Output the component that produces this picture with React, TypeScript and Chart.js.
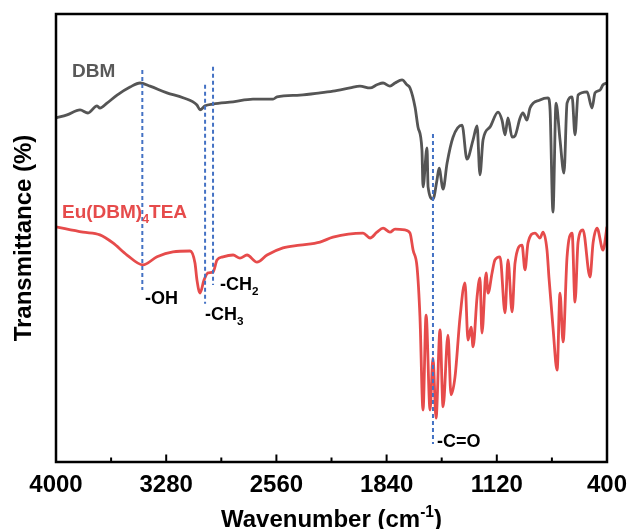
import React, { useEffect, useRef } from 'react';
import { Chart, registerables } from 'chart.js';

Chart.register(...registerables);

// ---- data ----
const dbmWavenumber = [4000, 3928, 3843, 3791, 3732, 3713, 3667, 3601, 3516, 3451, 3386, 3275, 3170, 3079, 3059, 3026, 2974, 2843, 2713, 2582, 2556, 2406, 2275, 2190, 2079, 2014, 1948, 1903, 1863, 1818, 1785, 1739, 1707, 1687, 1654, 1635, 1609, 1602, 1576, 1569, 1537, 1511, 1497, 1471, 1445, 1406, 1347, 1315, 1275, 1249, 1230, 1210, 1164, 1112, 1086, 1066, 1047, 1020, 1001, 968, 949, 923, 903, 838, 785, 772, 753, 733, 707, 681, 661, 628, 609, 589, 530, 498, 478, 446, 426, 400];
const dbmTransmittance = [76.8, 77.5, 78.6, 77.9, 79.5, 79.0, 80.1, 81.9, 83.7, 84.6, 83.9, 82.4, 81.3, 79.7, 78.6, 79.5, 79.9, 80.4, 81.0, 81.0, 81.5, 81.9, 82.4, 82.8, 83.5, 83.9, 83.5, 84.2, 84.6, 83.9, 84.6, 85.3, 84.2, 83.5, 79.2, 74.8, 69.6, 61.4, 70.1, 61.4, 58.7, 62.9, 65.6, 60.9, 66.7, 72.5, 75.2, 67.6, 71.9, 75.0, 64.1, 71.9, 74.8, 78.1, 76.3, 73.0, 76.8, 72.5, 72.8, 76.8, 77.9, 76.3, 79.0, 80.8, 81.3, 78.6, 55.8, 80.1, 71.9, 64.5, 80.1, 81.5, 73.0, 81.9, 82.6, 79.0, 82.4, 83.0, 84.2, 84.6];

const euWavenumber = [4000, 3824, 3713, 3628, 3536, 3432, 3340, 3236, 3124, 3092, 3079, 3059, 3033, 3007, 2974, 2948, 2909, 2843, 2798, 2752, 2687, 2621, 2517, 2406, 2275, 2190, 1994, 1948, 1903, 1863, 1818, 1785, 1720, 1687, 1667, 1641, 1622, 1602, 1582, 1556, 1537, 1517, 1491, 1471, 1439, 1419, 1393, 1360, 1328, 1308, 1288, 1275, 1249, 1230, 1217, 1190, 1177, 1151, 1132, 1099, 1066, 1047, 1020, 1001, 955, 936, 916, 870, 838, 818, 792, 779, 753, 726, 707, 687, 661, 628, 609, 589, 557, 511, 491, 465, 426, 400];
const euTransmittance = [52.5, 51.3, 50.7, 48.9, 46.2, 44.0, 45.8, 46.9, 47.1, 44.4, 40.6, 37.7, 40.6, 42.2, 42.4, 45.1, 45.8, 46.2, 45.5, 46.2, 44.6, 46.2, 47.8, 48.4, 49.1, 50.2, 51.1, 50.0, 51.3, 52.2, 51.3, 52.0, 51.8, 51.1, 47.3, 43.5, 32.4, 11.6, 32.8, 11.6, 23.2, 9.8, 29.5, 12.3, 28.3, 15.0, 19.0, 32.4, 40.0, 27.2, 30.1, 25.7, 36.8, 41.1, 28.8, 42.2, 37.7, 42.2, 45.1, 45.8, 33.3, 45.1, 33.5, 44.4, 48.4, 42.9, 48.9, 51.1, 50.0, 51.3, 47.3, 41.1, 30.1, 20.5, 37.7, 26.8, 45.8, 51.1, 35.7, 49.1, 51.8, 41.3, 48.9, 52.2, 47.3, 52.5];

// marker bands (dashed guide lines)
const bandWavenumber = [3436, 3026, 2974, 1537];
const bandTop = [87.5, 84.2, 88.2, 73.2];
const bandBottom = [38.4, 35.3, 39.5, 4.0];

// x tick labels (major), minor ticks every 360
const xTickLabels = [4000, 3280, 2560, 1840, 1120, 400];

const FONT = '"Liberation Sans", Arial, sans-serif';
const GRAY = '#555555';
const RED = '#E64B4B';
const BLUE = '#4472C4';

type Part = { t: string; sub?: boolean; sup?: boolean };

function richWidth(ctx: CanvasRenderingContext2D, parts: Part[], size: number) {
  let w = 0;
  for (const p of parts) {
    const s = p.sub || p.sup ? size * 0.65 : size;
    ctx.font = `bold ${s}px ${FONT}`;
    w += ctx.measureText(p.t).width;
  }
  return w;
}

function drawRich(ctx: CanvasRenderingContext2D, parts: Part[], x: number, y: number, size: number, color: string) {
  ctx.save();
  ctx.fillStyle = color;
  ctx.textAlign = 'left';
  ctx.textBaseline = 'alphabetic';
  let cx = x;
  for (const p of parts) {
    const s = p.sub || p.sup ? size * 0.65 : size;
    ctx.font = `bold ${s}px ${FONT}`;
    const dy = p.sub ? size * 0.28 : p.sup ? -size * 0.42 : 0;
    ctx.fillText(p.t, cx, y + dy);
    cx += ctx.measureText(p.t).width;
  }
  ctx.restore();
}

// annotation text anchors
const annotations: { parts: Part[]; wn: number; tr: number; size: number; color: string }[] = [
  { parts: [{ t: 'DBM' }], wn: 3895, tr: 85.9, size: 19, color: '#595959' },
  { parts: [{ t: 'Eu(DBM)' }, { t: '4', sub: true }, { t: 'TEA' }], wn: 3961, tr: 54.5, size: 19, color: RED },
  { parts: [{ t: '-OH' }], wn: 3418, tr: 35.3, size: 18, color: '#000' },
  { parts: [{ t: '-CH' }, { t: '3', sub: true }], wn: 3026, tr: 31.7, size: 18, color: '#000' },
  { parts: [{ t: '-CH' }, { t: '2', sub: true }], wn: 2928, tr: 38.4, size: 18, color: '#000' },
  { parts: [{ t: '-C=O' }], wn: 1511, tr: 3.3, size: 18, color: '#000' },
];

const framePlugin = {
  id: 'frame',
  afterDraw(chart: any) {
    const { ctx, chartArea } = chart;
    const xs = chart.scales.x;
    const ys = chart.scales.y;
    const { left, right, top, bottom } = chartArea;
    ctx.save();
    ctx.strokeStyle = '#000';
    ctx.lineWidth = 2.5;
    ctx.strokeRect(left, top, right - left, bottom - top);
    ctx.lineWidth = 2;
    for (const t of xs.ticks) {
      const px = xs.getPixelForValue(t.value);
      const major = xTickLabels.includes(t.value);
      ctx.beginPath();
      ctx.moveTo(px, bottom);
      ctx.lineTo(px, bottom - (major ? 7.5 : 4.5));
      ctx.stroke();
    }
    const xParts: Part[] = [{ t: 'Wavenumber (cm' }, { t: '-1', sup: true }, { t: ')' }];
    const w = richWidth(ctx, xParts, 24);
    drawRich(ctx, xParts, (left + right) / 2 - w / 2, 527, 24, '#000');
    ctx.save();
    ctx.translate(31, (top + bottom) / 2);
    ctx.rotate(-Math.PI / 2);
    ctx.font = `bold 24px ${FONT}`;
    ctx.fillStyle = '#000';
    ctx.textAlign = 'center';
    ctx.textBaseline = 'alphabetic';
    ctx.fillText('Transmittance (%)', 0, 0);
    ctx.restore();
    for (const a of annotations) {
      drawRich(ctx, a.parts, xs.getPixelForValue(a.wn), ys.getPixelForValue(a.tr), a.size, a.color);
    }
    ctx.restore();
  },
};

export default function App() {
  const ref = useRef<HTMLCanvasElement | null>(null);
  useEffect(() => {
    document.body.style.margin = '0';
    const canvas = ref.current;
    if (!canvas) return;
    const bandSets = bandWavenumber.map((wn, i) => ({
      label: 'band' + i,
      data: [
        { x: wn, y: bandTop[i] },
        { x: wn, y: bandBottom[i] },
      ],
      borderColor: BLUE,
      borderWidth: 2,
      borderDash: [4, 3],
      pointRadius: 0,
      fill: false,
      order: 0,
    }));
    const chart = new Chart(canvas, {
      type: 'line',
      data: {
        datasets: [
          ...bandSets,
          {
            label: 'DBM',
            data: dbmWavenumber.map((x, i) => ({ x, y: dbmTransmittance[i] })),
            borderColor: GRAY,
            borderWidth: 2.8,
            pointRadius: 0,
            cubicInterpolationMode: 'monotone',
            borderJoinStyle: 'round',
            fill: false,
            order: 1,
          },
          {
            label: 'Eu(DBM)4TEA',
            data: euWavenumber.map((x, i) => ({ x, y: euTransmittance[i] })),
            borderColor: RED,
            borderWidth: 2.8,
            pointRadius: 0,
            cubicInterpolationMode: 'monotone',
            borderJoinStyle: 'round',
            fill: false,
            order: 2,
          },
        ] as any,
      },
      options: {
        responsive: false,
        animation: false,
        devicePixelRatio: 1,
        layout: { padding: { left: 0, top: 14, right: 20, bottom: 0 } },
        plugins: { legend: { display: false }, tooltip: { enabled: false } },
        scales: {
          x: {
            type: 'linear',
            reverse: true,
            min: 400,
            max: 4000,
            grid: { display: false, drawTicks: false },
            border: { display: false },
            ticks: {
              stepSize: 360,
              autoSkip: false,
              maxRotation: 0,
              minRotation: 0,
              padding: 9,
              color: '#000',
              font: { family: FONT, size: 24, weight: 'bold' },
              callback: (v: any) => (xTickLabels.includes(Number(v)) ? String(v) : ''),
            },
            afterFit: (s: any) => {
              s.height = 67;
              s.paddingLeft = 0;
              s.paddingRight = 0;
            },
          },
          y: {
            type: 'linear',
            min: 0,
            max: 100,
            grid: { display: false, drawTicks: false },
            border: { display: false },
            ticks: { display: false },
            afterFit: (s: any) => {
              s.width = 56;
              s.paddingTop = 0;
              s.paddingBottom = 0;
            },
          },
        },
      } as any,
      plugins: [framePlugin],
    });
    return () => chart.destroy();
  }, []);
  return (
    <div style={{ width: 627, height: 529 }}>
      <canvas ref={ref} width={627} height={529} style={{ display: 'block' }} />
    </div>
  );
}
